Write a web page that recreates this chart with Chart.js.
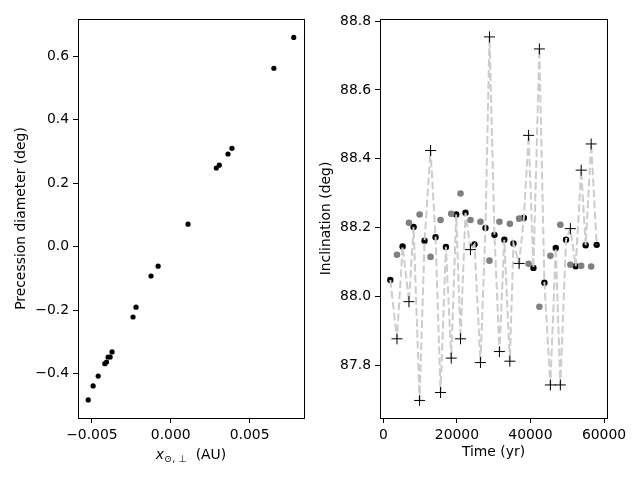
<!DOCTYPE html>
<html>
<head>
<meta charset="utf-8">
<script src="https://cdn.jsdelivr.net/npm/chart.js@4.4.1/dist/chart.umd.min.js"></script>
<style>
html, body { margin: 0; padding: 0; background: #fff; }
#wrap { position: relative; width: 640px; height: 480px; overflow: hidden; }
canvas { position: absolute; top: 0; }
#c1 { left: 0; }
#c2 { left: 300px; }
</style>
</head>
<body>
<div id="wrap">
<canvas id="c1" width="320" height="480"></canvas>
<canvas id="c2" width="340" height="480"></canvas>
</div>
<script>
// left panel: precession diameter vs x
const precX = [-0.00523, -0.00492, -0.00460, -0.00418, -0.00407, -0.00397, -0.00384, -0.00372,
  -0.00239, -0.00220, -0.00125, -0.00080, 0.00110, 0.00289, 0.00308, 0.00363, 0.00388, 0.00654, 0.00780];
const precY = [-0.482, -0.438, -0.407, -0.368, -0.363, -0.347, -0.347, -0.331,
  -0.221, -0.190, -0.092, -0.061, 0.071, 0.248, 0.257, 0.292, 0.310, 0.562, 0.659];
const leftXTicks = [-0.005, 0, 0.005];
const leftYTicks = [-0.4, -0.2, 0.0, 0.2, 0.4, 0.6];

// right panel: inclination vs time
const blackT = [1900, 5240, 8230, 11210, 14200, 17020, 19820, 22340, 24780, 27770, 30220,
  32900, 35380, 38200, 40810, 43790, 46880, 49680, 52310, 55020, 58010];
const blackY = [88.048, 88.145, 88.202, 88.162, 88.172, 88.144, 88.238, 88.243, 88.151, 88.199, 88.179,
  88.165, 88.154, 88.228, 88.083, 88.040, 88.141, 88.165, 88.088, 88.149, 88.150];
const midT = [3710, 6970, 9860, 12840, 15560, 18460, 20990, 23700, 26410, 28860,
  31570, 34400, 36920, 39500, 42430, 45420, 48130, 50860, 53790, 56510];
const grayY = [88.121, 88.214, 88.238, 88.115, 88.222, 88.240, 88.299, 88.222, 88.217, 88.104,
  88.217, 88.211, 88.226, 88.095, 87.970, 88.118, 88.208, 88.092, 88.089, 88.087];
const plusY = [87.877, 87.985, 87.698, 88.424, 87.721, 87.821, 87.877, 88.136, 87.808, 88.754,
  87.840, 87.812, 88.096, 88.468, 88.719, 87.743, 87.743, 88.197, 88.367, 88.443];
const rightXTicks = [0, 20000, 40000, 60000];
const rightYTicks = [87.8, 88.0, 88.2, 88.4, 88.6, 88.8];

Chart.defaults.font.family = 'DejaVu Sans';
Chart.defaults.font.size = 13.9;
Chart.defaults.color = '#000';

const frame = {
  id: 'frame',
  afterDraw(chart) {
    const a = chart.chartArea, ctx = chart.ctx;
    ctx.save();
    ctx.strokeStyle = '#000';
    ctx.lineWidth = 1;
    ctx.strokeRect(a.left + 0.5, a.top + 0.5, a.right - a.left, a.bottom - a.top);
    ctx.restore();
  }
};

const xSunLabel = {
  id: 'xSunLabel',
  afterDraw(chart) {
    const ctx = chart.ctx, a = chart.chartArea;
    const fam = '"DejaVu Sans"';
    const parts = [
      ['italic 13.9px ' + fam, 'x', 0],
      ['9.7px ' + fam, '\u2299, \u22A5', 3],
      ['13.9px ' + fam, '  (AU)', 0]
    ];
    ctx.save();
    ctx.fillStyle = '#000';
    ctx.textBaseline = 'alphabetic';
    let w = 0;
    parts.forEach(p => { ctx.font = p[0]; w += ctx.measureText(p[1]).width; });
    let x = (a.left + a.right) / 2 - w / 2;
    parts.forEach(p => {
      ctx.font = p[0];
      ctx.fillText(p[1], x, 459 + p[2]);
      x += ctx.measureText(p[1]).width;
    });
    ctx.restore();
  }
};

function axis(min, max, ticks, fmt, fit, title) {
  return {
    type: 'linear', min: min, max: max,
    afterBuildTicks: s => { s.ticks = ticks.map(v => ({ value: v })); },
    afterFit: fit,
    grid: { drawOnChartArea: false, drawTicks: true, tickLength: 5, tickColor: '#000', tickWidth: 1 },
    border: { display: false },
    ticks: { autoSkip: false, maxRotation: 0, padding: 4, callback: v => fmt(v).replace('-', '\u2212') },
    title: title ? { display: true, text: title, padding: 0 } : { display: false }
  };
}

new Chart(document.getElementById('c1'), {
  type: 'scatter',
  data: {
    datasets: [{
      data: precX.map((x, i) => ({ x: x, y: precY[i] })),
      backgroundColor: '#000', borderWidth: 0, pointRadius: 2.6
    }]
  },
  options: {
    responsive: false, animation: false,
    layout: { padding: { left: 13, right: 16, top: 19, bottom: 19 } },
    plugins: { legend: { display: false }, tooltip: { enabled: false } },
    scales: {
      x: axis(-0.00588, 0.00845, leftXTicks, v => v.toFixed(3), s => { s.height = 43; }, null),
      y: axis(-0.539, 0.717, leftYTicks, v => v.toFixed(1), s => { s.width = 65; }, 'Precession diameter (deg)')
    }
  },
  plugins: [frame, xSunLabel]
});

// dashed line alternates black-dot and plus positions
const lineData = [];
blackT.forEach((t, i) => {
  lineData.push({ x: t, y: blackY[i] });
  if (i < midT.length) lineData.push({ x: midT[i], y: plusY[i] });
});

new Chart(document.getElementById('c2'), {
  type: 'scatter',
  data: {
    datasets: [
      {
        data: midT.map((t, i) => ({ x: t, y: grayY[i] })),
        backgroundColor: '#808080', borderWidth: 0, pointRadius: 3.3, order: 0
      },
      {
        data: lineData, showLine: true, tension: 0, fill: false,
        borderColor: '#cccccc', borderWidth: 2, borderDash: [7.7, 3.3],
        pointStyle: 'cross', pointRadius: c => (c.dataIndex % 2 ? 5.5 : 0),
        pointBorderColor: '#000', pointBorderWidth: 1, order: 1
      },
      {
        data: blackT.map((t, i) => ({ x: t, y: blackY[i] })),
        backgroundColor: '#000', borderWidth: 0, pointRadius: 3.2, order: 2
      }
    ]
  },
  options: {
    responsive: false, animation: false,
    layout: { padding: { left: 18, right: 33, top: 19, bottom: 19 } },
    plugins: { legend: { display: false }, tooltip: { enabled: false } },
    scales: {
      x: axis(-905, 60815, rightXTicks, v => String(v), s => { s.height = 43; }, 'Time (yr)'),
      y: axis(87.647, 88.806, rightYTicks, v => v.toFixed(1), s => { s.width = 62; }, 'Inclination (deg)')
    }
  },
  plugins: [frame]
});
</script>
</body>
</html>
